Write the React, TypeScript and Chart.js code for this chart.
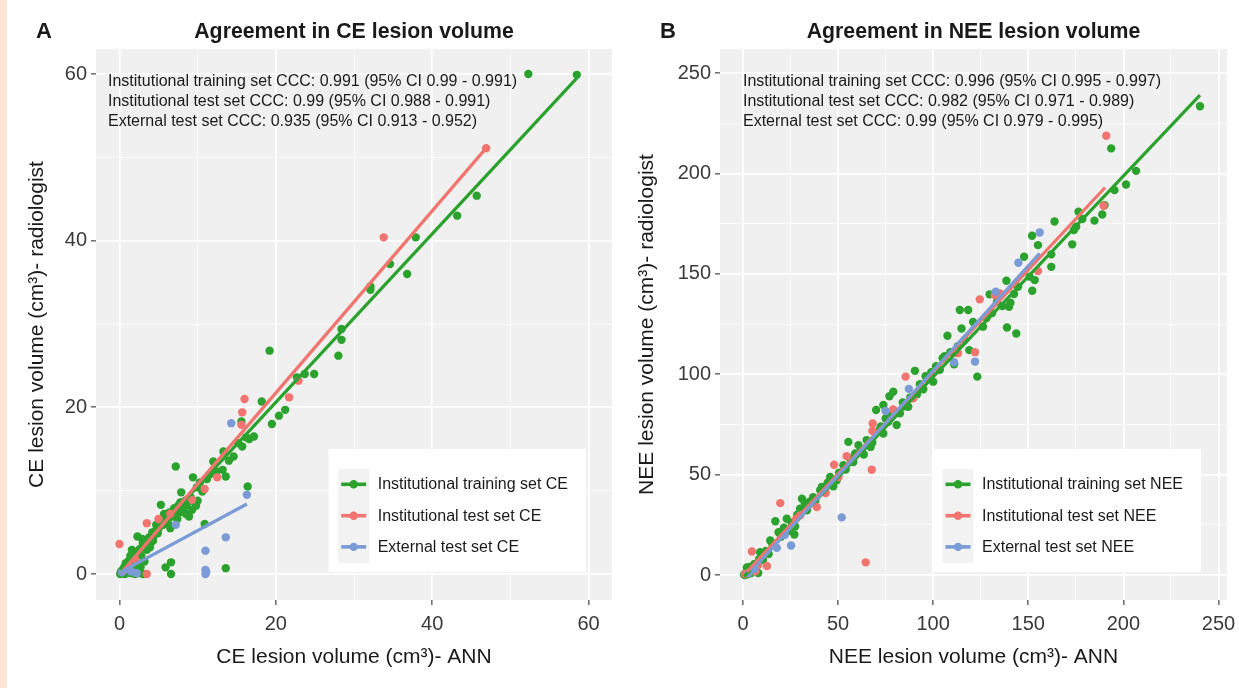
import React, { useEffect, useRef } from 'react';
import { Chart, registerables } from 'chart.js';
Chart.register(...registerables);

type Pt = [number, number];

// ---------------- DATA ----------------
// Panel A: CE lesion volume (x = ANN, y = radiologist)
const ceTrain: Pt[] = [
  [0.1, 0.0], [0.2, 0.3], [0.3, 0.1], [0.4, 0.5], [0.5, 0.2], [0.6, 0.8], [0.7, 0.0], [0.8, 1.3], [0.9, 0.4], [1.0, 0.9],
  [1.1, 0.2], [1.2, 1.6], [1.3, 0.6], [1.4, 2.2], [1.5, 0.1], [1.6, 2.9], [1.7, 1.0], [1.8, 0.3], [1.9, 1.9], [2.0, 0.0],
  [2.1, 2.5], [2.2, 0.6], [2.3, 4.5], [2.4, 1.2], [2.5, 0.1], [2.6, 3.0], [2.7, 0.8], [2.8, 2.2], [3.0, 0.0], [3.0, 3.7],
  [3.2, 1.5], [3.3, 3.3], [3.5, 2.9], [3.6, 4.1], [3.8, 4.4], [4.0, 3.8], [4.2, 5.0], [4.4, 4.6], [4.6, 5.2], [4.7, 5.9],
  [4.9, 4.9], [5.1, 5.6], [5.3, 8.3], [5.4, 6.3], [5.6, 5.9], [5.7, 7.2], [5.9, 0.8], [6.0, 6.6], [6.2, 6.1], [6.4, 7.4],
  [6.6, 1.4], [6.6, 0.0], [6.7, 6.9], [6.9, 7.6], [7.0, 7.9], [7.2, 12.9], [7.3, 7.0], [7.5, 8.2], [7.7, 7.4], [7.9, 9.8],
  [8.0, 8.1], [8.2, 7.8], [8.4, 8.8], [8.6, 8.3], [8.9, 6.9], [9.1, 9.2], [9.3, 7.7], [9.4, 11.6], [9.6, 8.6], [9.9, 10.4],
  [10.3, 11.0], [10.6, 9.9], [10.9, 6.0], [11.2, 11.4], [11.6, 12.0], [12.0, 13.5], [12.4, 12.3], [13.2, 12.5], [13.3, 14.7], [13.6, 11.7],
  [13.6, 0.7], [14.0, 13.6], [14.6, 14.1], [15.2, 15.7], [15.6, 18.3], [15.7, 15.3], [16.2, 16.4], [16.4, 10.5], [16.6, 16.2], [17.2, 16.5],
  [18.2, 20.7], [19.2, 26.8], [19.5, 18.0], [20.4, 19.0], [21.2, 19.7], [22.7, 23.6], [23.7, 24.0], [24.9, 24.0], [28.0, 26.2], [28.4, 28.1],
  [28.4, 29.4], [32.1, 34.5], [32.1, 34.1], [34.6, 37.2], [36.8, 36.0], [37.9, 40.4], [43.2, 43.0], [45.7, 45.4], [52.3, 60.0], [58.5, 59.9],
  [7.8, 8.6], [8.8, 9.0], [9.8, 8.2], [7.4, 6.6], [6.5, 5.5], [8.5, 7.2], [10.0, 8.8], [2.9, 4.2], [3.9, 3.2], [4.3, 4.0],
];
const ceTest: Pt[] = [
  [0.0, 3.6], [0.5, 0.4], [1.2, 1.0], [2.0, 1.8], [3.5, 6.1], [3.5, 0.0], [5.0, 6.6], [6.5, 7.2], [9.3, 8.9], [10.9, 10.2],
  [12.5, 11.6], [15.6, 17.9], [15.7, 19.4], [16.0, 21.0], [21.7, 21.2], [22.9, 23.2], [33.8, 40.4], [46.9, 51.1],
];
const ceExternal: Pt[] = [
  [0.3, 0.2], [0.8, 0.6], [1.5, 0.3], [2.2, 0.1], [7.2, 5.9], [11.0, 2.8], [11.0, 0.5], [11.0, 0.0], [11.1, 0.2], [13.6, 4.4],
  [14.3, 18.1], [16.3, 9.5],
];
const ceTrainFit: Pt[] = [[0.1, 0.5], [58.5, 59.5]];
const ceTestFit: Pt[] = [[0.2, 0.1], [46.9, 51.1]];
const ceExternalFit: Pt[] = [[0.1, 0.2], [16.3, 8.4]];

// Panel B: NEE lesion volume
const neeTrain: Pt[] = [
  [0.5, 0.2], [1.0, 0.0], [1.5, 1.2], [2.0, 3.8], [2.5, 0.5], [3.0, 1.5], [3.5, 4.0], [4.0, 0.8], [5.0, 2.5], [6.0, 5.5],
  [7.3, 5.5], [8.0, 1.0], [8.5, 8.0], [9.0, 11.3], [10.5, 7.5], [12.0, 12.0], [13.5, 10.5], [14.3, 17.2], [15.5, 15.0], [17.0, 26.8],
  [18.7, 21.3], [20.0, 19.0], [21.5, 23.5], [23.0, 28.0], [24.5, 22.0], [25.5, 26.0], [27.0, 20.2], [27.4, 24.2], [28.5, 30.0], [30.0, 33.0],
  [31.0, 38.0], [32.5, 35.5], [33.6, 32.2], [35.0, 36.5], [36.9, 38.8], [38.0, 37.0], [40.6, 42.2], [41.4, 43.8], [43.0, 41.5], [44.5, 46.0],
  [45.8, 48.8], [47.5, 44.2], [49.3, 47.2], [50.5, 51.0], [52.8, 54.7], [54.0, 52.5], [55.4, 66.3], [56.3, 58.0], [58.0, 56.3], [59.0, 60.5],
  [60.7, 64.7], [62.0, 62.0], [63.5, 60.0], [65.0, 67.2], [67.1, 63.8], [68.0, 66.0], [70.0, 82.2], [71.5, 72.0], [72.5, 74.0], [73.8, 84.7],
  [73.8, 70.5], [75.0, 78.0], [76.4, 76.3], [77.0, 89.0], [78.0, 79.5], [79.0, 91.3], [80.8, 74.7], [82.5, 80.5], [84.0, 86.0], [85.0, 84.0],
  [86.9, 83.8], [88.0, 88.5], [90.4, 101.7], [91.5, 90.0], [93.0, 95.0], [94.8, 92.5], [96.0, 99.0], [97.0, 98.0], [99.0, 101.0], [100.0, 96.3],
  [101.5, 104.0], [103.5, 102.2], [105.0, 108.0], [106.0, 109.0], [107.5, 119.2], [109.0, 111.0], [111.0, 105.0], [113.0, 114.0], [114.0, 132.0], [114.9, 122.8],
  [116.5, 117.0], [118.4, 132.0], [119.0, 112.0], [121.0, 126.0], [123.2, 98.8], [126.2, 123.7], [128.0, 128.0], [129.7, 139.8], [131.0, 130.5], [133.5, 136.0],
  [136.4, 134.0], [138.5, 146.6], [138.8, 123.3], [139.9, 133.6], [140.6, 135.6], [142.5, 140.0], [143.7, 120.3], [144.6, 143.6], [147.8, 158.5], [150.7, 148.6],
  [152.0, 169.0], [152.1, 141.6], [153.4, 146.9], [155.1, 164.3], [162.1, 159.7], [162.1, 153.5], [163.8, 176.1], [173.1, 164.7], [174.0, 171.8], [175.2, 173.5],
  [176.4, 180.9], [178.4, 177.3], [184.8, 176.5], [188.9, 179.6], [190.1, 184.2], [193.6, 212.5], [195.3, 191.7], [201.4, 194.5], [206.7, 201.3], [240.3, 233.5],
];
const neeTest: Pt[] = [
  [1.0, 0.5], [4.7, 11.7], [6.5, 1.8], [8.0, 5.0], [12.6, 4.5], [19.6, 35.8], [28.0, 28.0], [30.0, 29.7], [38.8, 33.8], [43.5, 40.8],
  [47.9, 54.9], [50.2, 48.8], [54.5, 59.2], [64.5, 6.3], [67.7, 52.4], [68.0, 71.8], [68.2, 75.5], [79.0, 82.5], [85.5, 98.8], [89.5, 88.0],
  [113.0, 110.5], [122.0, 111.0], [124.5, 137.3], [132.4, 139.4], [135.0, 140.3], [155.1, 151.4], [189.6, 183.9], [191.0, 218.8],
];
const neeExternal: Pt[] = [
  [3.0, 1.0], [6.0, 3.0], [17.8, 13.5], [22.0, 20.0], [25.3, 14.7], [51.9, 28.7], [75.0, 81.7], [87.2, 92.7], [111.0, 106.0], [122.0, 106.3],
  [132.9, 141.1], [144.8, 155.5], [156.0, 170.6],
];
const neeTrainFit: Pt[] = [[0.5, -0.8], [240.3, 239.0]];
const neeTestFit: Pt[] = [[2.0, 1.6], [190.4, 193.0]];
const neeExternalFit: Pt[] = [[4.5, 2.0], [156.0, 160.2]];

// Axis ticks
const ceTickValues = [0, 10, 20, 30, 40, 50, 60];
const ceTickLabels = [0, 20, 40, 60];
const neeTickValues = [0, 25, 50, 75, 100, 125, 150, 175, 200, 225, 250];
const neeTickLabels = [0, 50, 100, 150, 200, 250];

// Texts
const ceLegend = ['Institutional training set CE', 'Institutional test set CE', 'External test set CE'];
const neeLegend = ['Institutional training set NEE', 'Institutional test set NEE', 'External test set NEE'];
const ceStats = [
  'Institutional training set CCC: 0.991 (95% CI 0.99 - 0.991)',
  'Institutional test set CCC: 0.99 (95% CI 0.988 - 0.991)',
  'External test set CCC: 0.935 (95% CI 0.913 - 0.952)',
];
const neeStats = [
  'Institutional training set CCC: 0.996 (95% CI 0.995 - 0.997)',
  'Institutional test set CCC: 0.982 (95% CI 0.971 - 0.989)',
  'External test set CCC: 0.99 (95% CI 0.979 - 0.995)',
];

// ---------------- STYLE ----------------
const FONT = '"Liberation Sans", Arial, Helvetica, sans-serif';
const COLORS = ['#2CA22E', '#F1746F', '#7B9BD6'];
const PANEL_BG = '#EFF0EF';
const TEXT = '#1A1A1A';

interface PanelSpec {
  letter: string;
  title: string;
  xTitle: string;
  yTitle: string;
  series: Pt[][];
  fits: Pt[][];
  legend: string[];
  stats: string[];
  tickValues: number[];
  tickLabels: number[];
  xRange: [number, number];
  yRange: [number, number];
  width: number;
  area: { left: number; right: number; top: number; bottom: number };
  yTitleX: number;
  statsX: number;
}

const H = 688;

const panelA: PanelSpec = {
  letter: 'A',
  title: 'Agreement in CE lesion volume',
  xTitle: 'CE lesion volume (cm³)- ANN',
  yTitle: 'CE lesion volume (cm³)- radiologist',
  series: [ceTrain, ceTest, ceExternal],
  fits: [ceTrainFit, ceTestFit, ceExternalFit],
  legend: ceLegend,
  stats: ceStats,
  tickValues: ceTickValues,
  tickLabels: ceTickLabels,
  xRange: [-3, 63],
  yRange: [-3.12, 63],
  width: 620,
  area: { left: 96, right: 612, top: 49, bottom: 600 },
  yTitleX: 37,
  statsX: 108,
};

const panelB: PanelSpec = {
  letter: 'B',
  title: 'Agreement in NEE lesion volume',
  xTitle: 'NEE lesion volume (cm³)- ANN',
  yTitle: 'NEE lesion volume (cm³)- radiologist',
  series: [neeTrain, neeTest, neeExternal],
  fits: [neeTrainFit, neeTestFit, neeExternalFit],
  legend: neeLegend,
  stats: neeStats,
  tickValues: neeTickValues,
  tickLabels: neeTickLabels,
  xRange: [-12.1, 254.5],
  yRange: [-12.45, 262],
  width: 619,
  area: { left: 100, right: 607, top: 49, bottom: 600 },
  yTitleX: 27,
  statsX: 123,
};

function toXY(pts: Pt[]) {
  return pts.map(([x, y]) => ({ x, y }));
}

function makeDecor(p: PanelSpec) {
  return {
    id: 'decor' + p.letter,
    beforeDraw(chart: any) {
      const { ctx, chartArea: a } = chart;
      ctx.save();
      ctx.fillStyle = PANEL_BG;
      ctx.fillRect(a.left, a.top, a.right - a.left, a.bottom - a.top);
      ctx.restore();
    },
    afterDraw(chart: any) {
      const { ctx, chartArea: a } = chart;
      const cx = (a.left + a.right) / 2;
      ctx.save();
      // Title and panel letter
      ctx.fillStyle = TEXT;
      ctx.textBaseline = 'alphabetic';
      ctx.textAlign = 'center';
      ctx.font = `bold 21.3px ${FONT}`;
      ctx.fillText(p.title, cx, 38);
      ctx.textAlign = 'left';
      ctx.font = `bold 22px ${FONT}`;
      ctx.fillText(p.letter, a.left - 60, 38);

      // Axis titles
      ctx.font = `21px ${FONT}`;
      ctx.textAlign = 'center';
      ctx.textBaseline = 'middle';
      ctx.fillText(p.xTitle, cx, 657);
      ctx.save();
      ctx.translate(p.yTitleX, (a.top + a.bottom) / 2);
      ctx.rotate(-Math.PI / 2);
      ctx.fillText(p.yTitle, 0, 0);
      ctx.restore();

      // Stats annotation
      ctx.font = `16px ${FONT}`;
      ctx.textAlign = 'left';
      ctx.textBaseline = 'alphabetic';
      p.stats.forEach((s, i) => ctx.fillText(s, p.statsX, 86 + 20 * i));

      // Legend
      ctx.font = `16px ${FONT}`;
      const tw = Math.max(...p.legend.map((l) => ctx.measureText(l).width));
      const boxRight = a.right - 26;
      const textX = boxRight - 18 - tw;
      const boxLeft = textX - 49;
      const boxTop = 449;
      const boxBottom = 572;
      ctx.fillStyle = '#FFFFFF';
      ctx.fillRect(boxLeft, boxTop, boxRight - boxLeft, boxBottom - boxTop);
      const keyL = boxLeft + 9.5;
      const keyR = boxLeft + 40.5;
      ctx.fillStyle = '#F2F2F2';
      ctx.fillRect(keyL, 469, keyR - keyL, 94);
      const rows = [484.3, 515.7, 546.9];
      p.legend.forEach((label, i) => {
        const y = rows[i];
        ctx.strokeStyle = COLORS[i];
        ctx.lineWidth = 3.6;
        ctx.beginPath();
        ctx.moveTo(keyL + 3, y);
        ctx.lineTo(keyR - 3, y);
        ctx.stroke();
        ctx.fillStyle = COLORS[i];
        ctx.beginPath();
        ctx.arc((keyL + keyR) / 2, y, 4.2, 0, Math.PI * 2);
        ctx.fill();
        ctx.fillStyle = TEXT;
        ctx.textBaseline = 'middle';
        ctx.fillText(label, textX, y + 0.5);
      });
      ctx.restore();
    },
  };
}

function buildChart(canvas: HTMLCanvasElement, p: PanelSpec) {
  const pointSets = p.series.map((s, i) => ({
    type: 'scatter' as const,
    label: p.legend[i],
    data: toXY(s),
    backgroundColor: COLORS[i],
    borderColor: COLORS[i],
    pointRadius: 4.2,
    pointBorderWidth: 0,
    showLine: false,
    order: 6 - i,
  }));
  const fitSets = p.fits.map((f, i) => ({
    type: 'scatter' as const,
    label: p.legend[i] + ' fit',
    data: toXY(f),
    borderColor: COLORS[i],
    backgroundColor: COLORS[i],
    borderWidth: 3.2,
    pointRadius: 0,
    showLine: true,
    order: 3 - i,
  }));

  const isMajor = (v: number) => p.tickLabels.includes(v);
  const axisCommon = (vals: number[], pad: number) => ({
    type: 'linear' as const,
    afterBuildTicks: (scale: any) => {
      scale.ticks = vals.map((v) => ({ value: v }));
    },
    ticks: {
      autoSkip: false,
      maxRotation: 0,
      minRotation: 0,
      padding: pad,
      color: '#3A3A3A',
      font: { family: FONT, size: 20 },
      callback: (v: any) => (isMajor(Number(v)) ? String(v) : ''),
    },
    grid: {
      color: '#FFFFFF',
      lineWidth: (ctx: any) => (ctx.tick && isMajor(ctx.tick.value) ? 1.7 : 0.8),
      tickColor: (ctx: any) => (ctx.tick && isMajor(ctx.tick.value) ? '#444444' : 'rgba(0,0,0,0)'),
      tickLength: 5,
      tickWidth: 1.2,
      drawTicks: true,
      drawOnChartArea: true,
    },
    border: { display: false },
    title: { display: false },
  });

  return new Chart(canvas, {
    type: 'scatter',
    data: { datasets: [...pointSets, ...fitSets] as any },
    options: {
      animation: false,
      responsive: false,
      maintainAspectRatio: false,
      events: [],
      layout: {
        autoPadding: false,
        padding: { top: p.area.top, right: p.width - p.area.right, bottom: 0, left: 0 },
      },
      plugins: {
        legend: { display: false },
        tooltip: { enabled: false },
        title: { display: false },
      },
      scales: {
        x: {
          ...axisCommon(p.tickValues, 7),
          position: 'bottom',
          min: p.xRange[0],
          max: p.xRange[1],
          afterFit: (scale: any) => {
            scale.height = H - p.area.bottom;
            scale.paddingLeft = 0;
            scale.paddingRight = 0;
          },
        },
        y: {
          ...axisCommon(p.tickValues, 4),
          position: 'left',
          min: p.yRange[0],
          max: p.yRange[1],
          afterFit: (scale: any) => {
            scale.width = p.area.left;
            scale.paddingTop = 0;
            scale.paddingBottom = 0;
          },
        },
      } as any,
    },
    plugins: [makeDecor(p)],
  });
}

export default function App() {
  const refA = useRef<HTMLCanvasElement>(null);
  const refB = useRef<HTMLCanvasElement>(null);

  useEffect(() => {
    const a = buildChart(refA.current!, panelA);
    const b = buildChart(refB.current!, panelB);
    return () => {
      a.destroy();
      b.destroy();
    };
  }, []);

  return (
    <div
      style={{
        position: 'absolute',
        left: 0,
        top: 0,
        width: 1239,
        height: H,
        background: '#FFFFFF',
        overflow: 'hidden',
      }}
    >
      <canvas
        ref={refA}
        width={620}
        height={H}
        style={{ position: 'absolute', left: 0, top: 0, width: 620, height: H }}
      />
      <canvas
        ref={refB}
        width={619}
        height={H}
        style={{ position: 'absolute', left: 620, top: 0, width: 619, height: H }}
      />
      <div
        style={{ position: 'absolute', left: 0, top: 0, width: 7, height: H, background: '#FCE4D9' }}
      />
    </div>
  );
}
